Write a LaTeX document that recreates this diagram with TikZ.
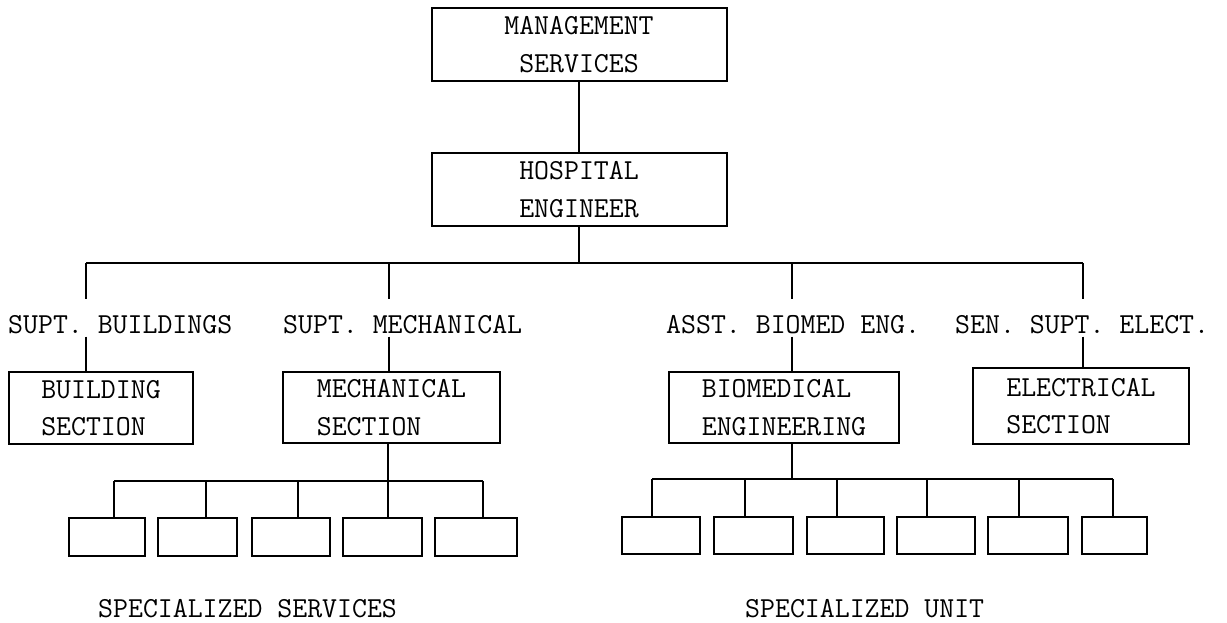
\documentclass[tikz,border=0pt]{standalone}
\usetikzlibrary{calc}
\begin{document}
\begin{tikzpicture}[x=1pt,y=-1pt,
  txt/.style={font=\fontsize{29}{37.5}\selectfont\ttfamily},
  unitbox/.style={draw, line width=2pt, txt, inner sep=0pt, align=center},
  sectbox/.style={unitbox, align=left},
  leaf/.style={draw, line width=2.4pt, inner sep=0pt},
  role/.style={txt, inner sep=0pt, anchor=base west},
  link/.style={line width=1.3pt}]
\useasboundingbox (0,0) rectangle (1227,622);

% top levels
\node[unitbox, minimum width=295pt, minimum height=73pt] (mgmt) at (579,44.5) {MANAGEMENT\\SERVICES};
\node[unitbox, minimum width=295pt, minimum height=73pt] (hosp) at (579,189.5) {HOSPITAL\\ENGINEER};
\draw[link] (mgmt.south) -- (hosp.south |- hosp.north);

% main bus
\coordinate (d1) at (86,263);
\coordinate (d2) at (389,263);
\coordinate (d3) at (792,263);
\coordinate (d4) at (1083,263);
\draw[link] (hosp.south) -- (hosp.south |- d1);
\draw[link] (d1) -- (d4);

% role labels
\node[role] (r1) at (8,333) {SUPT. BUILDINGS};
\node[role] (r2) at (283,333) {SUPT. MECHANICAL};
\node[role] (r3) at (666,333) {ASST. BIOMED ENG.};
\node[role] (r4) at (955,333) {SEN. SUPT. ELECT.};

% section boxes
\node[sectbox, minimum width=184pt, minimum height=72pt] (bldg) at (101,408) {BUILDING\\SECTION};
\node[sectbox, minimum width=217pt, minimum height=71pt] (mech) at (391.5,407.5) {MECHANICAL\\SECTION};
\node[sectbox, minimum width=230pt, minimum height=71pt] (bio) at (784,407.5) {BIOMEDICAL\\ENGINEERING};
\node[sectbox, minimum width=216pt, minimum height=76pt] (elec) at (1081,406) {ELECTRICAL\\SECTION};

% drops through role labels
\draw[link] (d1) -- ($(d1 |- r1.north)+(0,-16)$);
\draw[link] ($(d1 |- r1.south)+(0,3)$) -- (d1 |- bldg.north);
\draw[link] (d2) -- ($(d2 |- r2.north)+(0,-16)$);
\draw[link] ($(d2 |- r2.south)+(0,3)$) -- (d2 |- mech.north);
\draw[link] (d3) -- ($(d3 |- r3.north)+(0,-16)$);
\draw[link] ($(d3 |- r3.south)+(0,3)$) -- (d3 |- bio.north);
\draw[link] (d4) -- ($(d4 |- r4.north)+(0,-16)$);
\draw[link] ($(d4 |- r4.south)+(0,3)$) -- (d4 |- elec.north);

% specialized services
\coordinate (mb) at (388,481);
\draw[link] (mech.south -| mb) -- (mb);
\foreach \i/\cx/\w/\dx in {1/107/76/114, 2/197.5/79/206, 3/291/78/298, 4/382.5/79/388, 5/476/82/483} {
  \node[leaf, minimum width=\w pt, minimum height=38pt] (s\i) at (\cx,537) {};
  \coordinate (sb\i) at (\dx,481);
  \draw[link] (sb\i) -- (sb\i |- s\i.north);
}
\draw[link] (sb1) -- (sb5);

% specialized unit
\coordinate (bb) at (792,479);
\draw[link] (bio.south -| bb) -- (bb);
\foreach \i/\cx/\w/\dx in {1/661/78/652, 2/753.5/79/745, 3/845.5/77/837, 4/936/78/927, 5/1028/80/1019, 6/1114.5/65/1113} {
  \node[leaf, minimum width=\w pt, minimum height=37pt] (u\i) at (\cx,535.5) {};
  \coordinate (ub\i) at (\dx,479);
  \draw[link] (ub\i) -- (ub\i |- u\i.north);
}
\draw[link] (ub1) -- (ub6);

% captions
\node[role] (t1) at (98,617) {SPECIALIZED SERVICES};
\node[role] (t2) at (745,617) {SPECIALIZED UNIT};
\end{tikzpicture}
\end{document}
